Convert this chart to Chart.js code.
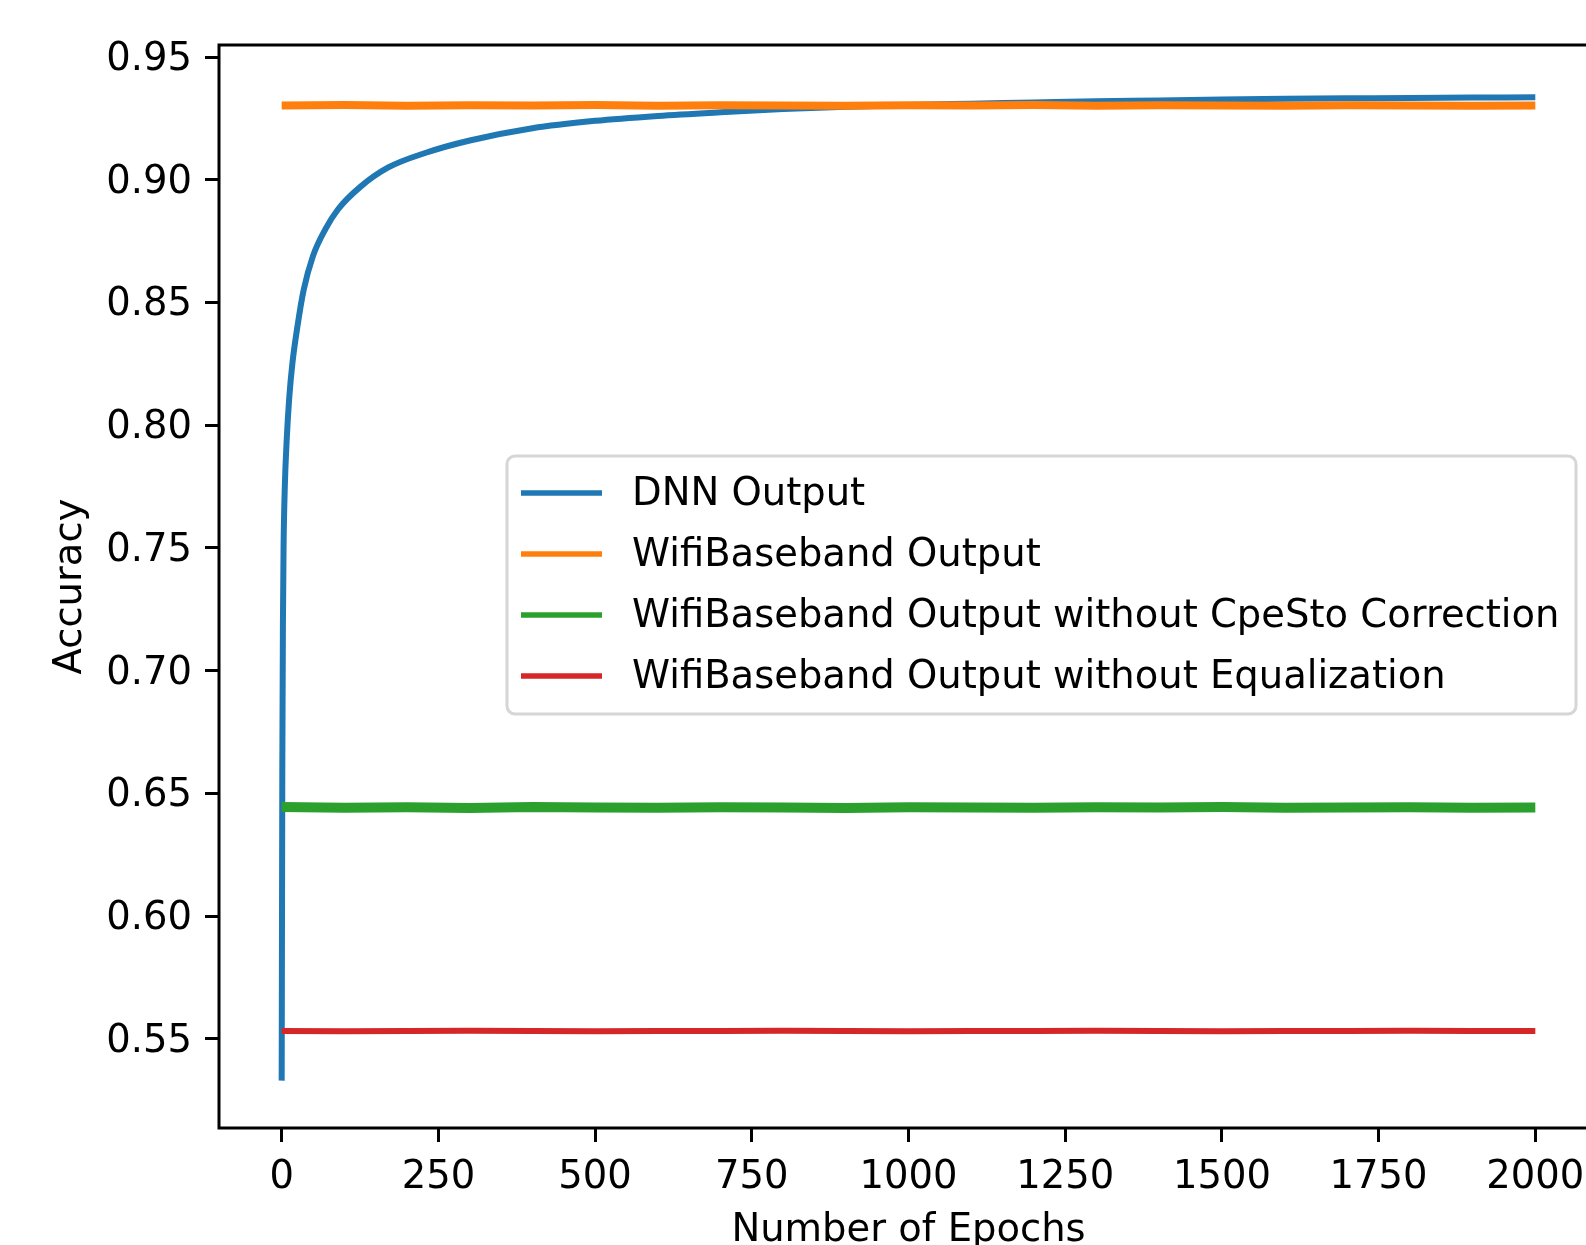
<!DOCTYPE html>
<html>
<head>
<meta charset="utf-8">
<title>Accuracy vs Number of Epochs</title>
<script src="https://cdn.jsdelivr.net/npm/chart.js@4.4.0/dist/chart.umd.min.js"></script>
<style>
  body { margin: 0; overflow: hidden; background: #fff; }
  canvas { display: block; }
</style>
</head>
<body>
<canvas id="accuracyChart" width="1600" height="1245"></canvas>
<script>
// Values
const seriesLabels = [
  'DNN Output',
  'WifiBaseband Output',
  'WifiBaseband Output without CpeSto Correction',
  'WifiBaseband Output without Equalization'
];

const dnnEpochs = [0, 1, 2, 3, 5, 8, 12, 17, 25, 35, 50, 70, 90, 125, 170, 230, 300, 400, 500, 600,
  700, 800, 900, 1000, 1100, 1200, 1300, 1400, 1500, 1600, 1700, 1800, 1900, 2000];
const dnnAccuracy = [0.533, 0.66, 0.72, 0.75, 0.775, 0.794, 0.811, 0.825, 0.840, 0.855, 0.869, 0.880,
  0.888, 0.897, 0.905, 0.911, 0.916, 0.921, 0.924, 0.926, 0.9275, 0.9288, 0.9297, 0.9305, 0.931,
  0.9315, 0.932, 0.9323, 0.9327, 0.933, 0.9332, 0.9333, 0.9335, 0.9336];

const baseEpochs = [0, 100, 200, 300, 400, 500, 600, 700, 800, 900, 1000, 1100, 1200, 1300, 1400,
  1500, 1600, 1700, 1800, 1900, 2000];
const wifiAccuracy = [0.9303, 0.9305, 0.9302, 0.9304, 0.9303, 0.9305, 0.9302, 0.9304, 0.9303, 0.9302,
  0.9304, 0.9303, 0.9305, 0.9302, 0.9304, 0.9303, 0.9302, 0.9304, 0.9303, 0.9302, 0.9303];
const noCpeStoAccuracy = [0.6445, 0.6442, 0.6444, 0.6441, 0.6445, 0.6443, 0.6442, 0.6444, 0.6443, 0.6441,
  0.6444, 0.6443, 0.6442, 0.6444, 0.6443, 0.6445, 0.6442, 0.6443, 0.6444, 0.6442, 0.6443];
const noEqualizationAccuracy = [0.5532, 0.5531, 0.5532, 0.5533, 0.5532, 0.5531, 0.5532, 0.5532, 0.5533, 0.5532,
  0.5531, 0.5532, 0.5532, 0.5533, 0.5532, 0.5531, 0.5532, 0.5532, 0.5533, 0.5532, 0.5532];

const xTicks = [0, 250, 500, 750, 1000, 1250, 1500, 1750, 2000];
const yTicks = [0.55, 0.60, 0.65, 0.70, 0.75, 0.80, 0.85, 0.90, 0.95];

function toPoints(xs, ys) {
  return xs.map((x, i) => ({ x: x, y: ys[i] }));
}

Chart.defaults.font.family = '"DejaVu Sans", sans-serif';
Chart.defaults.font.size = 38.5;
Chart.defaults.color = '#000';

// black box round the plot area, like the matplotlib spines
const frame = {
  id: 'frame',
  afterDraw(chart) {
    const a = chart.chartArea;
    const ctx = chart.ctx;
    ctx.save();
    ctx.strokeStyle = '#000';
    ctx.lineWidth = 3;
    ctx.strokeRect(a.left, a.top, a.right - a.left, a.bottom - a.top);
    ctx.restore();
  }
};

// legend box inside the plot
const legendBox = {
  id: 'legendBox',
  afterDraw(chart) {
    const ctx = chart.ctx;
    ctx.save();
    ctx.beginPath();
    ctx.roundRect(507, 456, 1069, 258, 8);
    ctx.fillStyle = 'rgba(255,255,255,0.8)';
    ctx.fill();
    ctx.lineWidth = 3;
    ctx.strokeStyle = '#d6d6d6';
    ctx.stroke();
    ctx.font = '38.5px "DejaVu Sans"';
    ctx.textAlign = 'left';
    ctx.textBaseline = 'alphabetic';
    chart.data.datasets.forEach((ds, i) => {
      const y = 493 + i * 61;
      ctx.beginPath();
      ctx.moveTo(521, y);
      ctx.lineTo(602, y);
      ctx.strokeStyle = ds.borderColor;
      ctx.lineWidth = 5.5;
      ctx.stroke();
      ctx.fillStyle = '#000';
      ctx.fillText(ds.label, 632, y + 12);
    });
    ctx.restore();
  }
};

const ctx = document.getElementById('accuracyChart').getContext('2d');
new Chart(ctx, {
  type: 'line',
  data: {
    datasets: [
      {
        label: seriesLabels[0],
        data: toPoints(dnnEpochs, dnnAccuracy),
        borderColor: '#1f77b4',
        borderWidth: 6,
        cubicInterpolationMode: 'monotone',
        order: 4
      },
      {
        label: seriesLabels[1],
        data: toPoints(baseEpochs, wifiAccuracy),
        borderColor: '#ff7f0e',
        borderWidth: 8,
        order: 3
      },
      {
        label: seriesLabels[2],
        data: toPoints(baseEpochs, noCpeStoAccuracy),
        borderColor: '#2ca02c',
        borderWidth: 10,
        order: 2
      },
      {
        label: seriesLabels[3],
        data: toPoints(baseEpochs, noEqualizationAccuracy),
        borderColor: '#d62728',
        borderWidth: 6,
        order: 1
      }
    ]
  },
  options: {
    responsive: false,
    animation: false,
    events: [],
    elements: { point: { radius: 0 }, line: { tension: 0 } },
    layout: { padding: { top: 45, right: 2, left: 0, bottom: 0 } },
    plugins: {
      legend: { display: false },
      tooltip: { enabled: false }
    },
    scales: {
      x: {
        type: 'linear',
        min: -100,
        max: 2100,
        afterFit: (scale) => { scale.height = 117; },
        afterBuildTicks: (scale) => { scale.ticks = xTicks.map(v => ({ value: v })); },
        ticks: {
          padding: 13,
          maxRotation: 0,
          callback: (v) => String(v)
        },
        grid: {
          drawOnChartArea: false,
          tickLength: 14,
          tickWidth: 3,
          tickColor: '#000'
        },
        border: { display: false },
        title: {
          display: true,
          text: 'Number of Epochs',
          padding: { top: 0, bottom: -9 }
        }
      },
      y: {
        type: 'linear',
        min: 0.5137,
        max: 0.9549,
        afterFit: (scale) => { scale.width = 219; },
        afterBuildTicks: (scale) => { scale.ticks = yTicks.map(v => ({ value: v })); },
        ticks: {
          padding: 13,
          labelOffset: 3,
          callback: (v) => v.toFixed(2)
        },
        grid: {
          drawOnChartArea: false,
          tickLength: 14,
          tickWidth: 3,
          tickColor: '#000'
        },
        border: { display: false },
        title: {
          display: true,
          text: 'Accuracy',
          padding: { top: 48, bottom: 0 }
        }
      }
    }
  },
  plugins: [frame, legendBox]
});
</script>
</body>
</html>
